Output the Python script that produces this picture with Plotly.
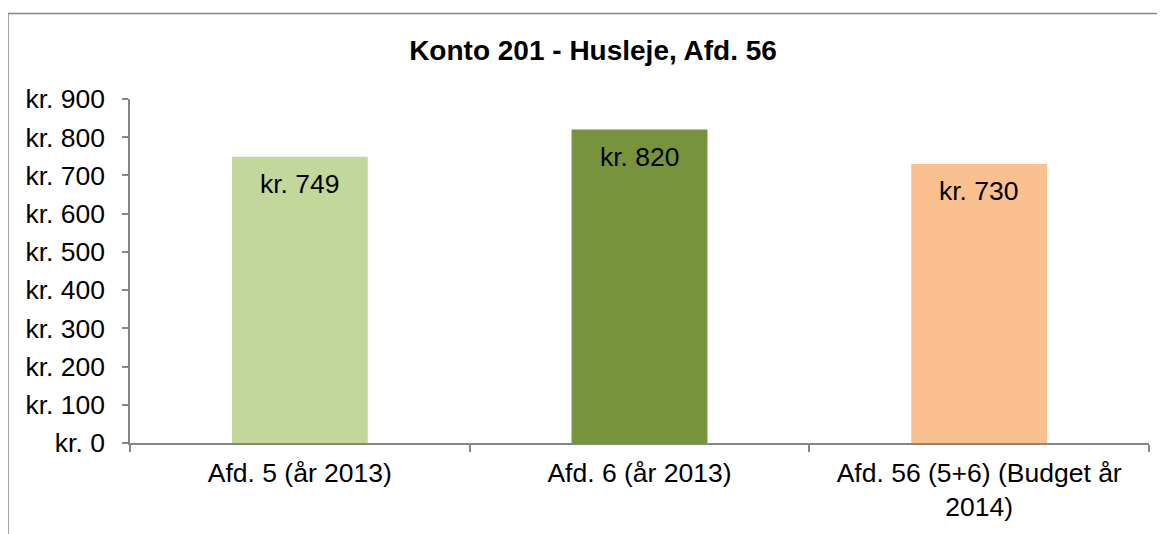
import plotly.graph_objects as go

categories = ["Afd. 5 (år 2013)", "Afd. 6 (år 2013)", "Afd. 56 (5+6) (Budget år<br>2014)"]
values = [749, 820, 730]
colors = ["#C4D79B", "#77933C", "#FAC090"]
title = "Konto 201 - Husleje, Afd. 56"
y_ticks = [0, 100, 200, 300, 400, 500, 600, 700, 800, 900]
y_tick_labels = [f"kr. {v}" for v in y_ticks]

# page body has an 8px margin, so the figure is drawn 8px right/down
OFF = 8
W, H = 1165 - OFF, 534 - OFF
ml, mr, mt, mb = 130 - OFF, 1165 - 1149, 99 - OFF, 534 - 445
pw, ph = W - ml - mr, H - mt - mb

FONT = "Liberation Sans, Arial"

fig = go.Figure()
fig.add_trace(go.Bar(x=categories, y=values, marker=dict(color=colors, line=dict(width=0)),
                     hoverinfo="skip"))

for c, v in zip(categories, values):
    fig.add_annotation(x=c, y=v, text=f"kr. {v}", showarrow=False, yshift=-27,
                       font=dict(family=FONT, size=26.5, color="#000"))

fig.add_shape(type="rect", xref="paper", yref="paper",
              x0=(8 - OFF - ml) / pw, x1=(1185 - OFF - ml) / pw,
              y0=-0.5, y1=(H - mb - (13 - OFF)) / ph,
              line=dict(color="#878787", width=1.5), layer="below")

fig.update_layout(
    width=W, height=H,
    margin=dict(l=ml, r=mr, t=mt, b=mb),
    paper_bgcolor="white", plot_bgcolor="white",
    showlegend=False, bargap=0.6,
    font=dict(family=FONT, size=26.5, color="#000"),
    title=dict(text="<b>" + title + "</b>", x=(593 - OFF) / W, xanchor="center",
               y=1 - (50 - OFF) / H, yanchor="middle",
               font=dict(family=FONT, size=28, color="#000")),
    xaxis=dict(showline=True, linecolor="#868686", linewidth=1.5, ticks="outside",
               tickson="boundaries", ticklen=7, tickcolor="#868686", tickwidth=1.5,
               showgrid=False, tickfont=dict(size=26.5), ticklabelstandoff=5),
    yaxis=dict(range=[0, 900], tickvals=y_ticks, ticktext=y_tick_labels, showline=True,
               linecolor="#868686", linewidth=1.5, ticks="outside", ticklen=6,
               tickcolor="#868686", tickwidth=1.5, showgrid=False, zeroline=False,
               tickfont=dict(size=26.5), ticklabelstandoff=12),
)

fig.write_html("out.html")
